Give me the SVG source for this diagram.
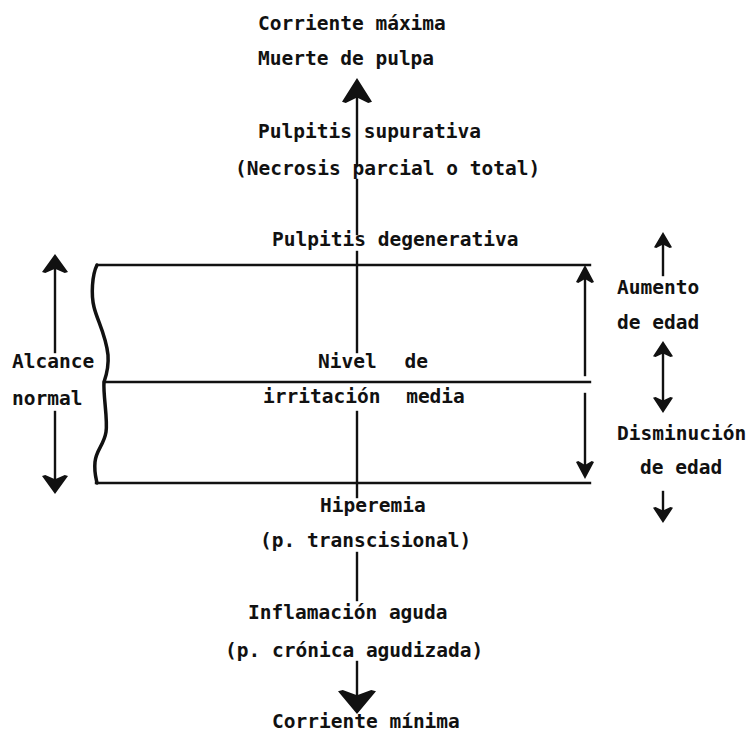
<svg xmlns="http://www.w3.org/2000/svg" xmlns:xlink="http://www.w3.org/1999/xlink" width="748" height="732" viewBox="0 0 748 732">
<style>
text{font-family:"DejaVu Sans Mono","Liberation Mono",monospace;font-size:19.5px;font-weight:bold;fill:#111}
.ln{stroke:#111;stroke-width:2.4;fill:none;stroke-linecap:square}
.wave{stroke:#111;stroke-width:3.5;fill:none;stroke-linecap:round}
.ah{fill:#111}
</style>
<defs>
<path id="ah" d="M0,0 L1,0.95 L0.75,1 L0,0.78 L-0.75,1 L-1,0.95 Z"/>
</defs>
<rect width="748" height="732" fill="#fff"/>
<g id="connectors">
<line class="ln" x1="357" y1="96" x2="357" y2="165"/>
<line class="ln" x1="357" y1="180" x2="357" y2="234"/>
<line class="ln" x1="357" y1="252" x2="357" y2="352"/>
<line class="ln" x1="357" y1="412" x2="357" y2="497"/>
<line class="ln" x1="357" y1="553" x2="357" y2="600"/>
<line class="ln" x1="357" y1="662" x2="357" y2="700"/>
<use xlink:href="#ah" class="ah" transform="translate(357,78) scale(15,25)"/>
<use xlink:href="#ah" class="ah" transform="translate(357,714) scale(19,-24)"/>
<line class="ln" x1="55" y1="262" x2="55" y2="352"/>
<line class="ln" x1="55" y1="412" x2="55" y2="486"/>
<use xlink:href="#ah" class="ah" transform="translate(55,254) scale(13,19)"/>
<use xlink:href="#ah" class="ah" transform="translate(55,494) scale(13,-19)"/>
<line class="ln" x1="585" y1="272" x2="585" y2="375"/>
<line class="ln" x1="585" y1="394" x2="585" y2="470"/>
<use xlink:href="#ah" class="ah" transform="translate(585,265) scale(9,18)"/>
<use xlink:href="#ah" class="ah" transform="translate(585,479) scale(9,-18)"/>
<line class="ln" x1="663" y1="240" x2="663" y2="275"/>
<use xlink:href="#ah" class="ah" transform="translate(663,232) scale(9,16)"/>
<line class="ln" x1="663" y1="350" x2="663" y2="405"/>
<use xlink:href="#ah" class="ah" transform="translate(663,341) scale(10,16)"/>
<use xlink:href="#ah" class="ah" transform="translate(663,413) scale(10,-16)"/>
<line class="ln" x1="663" y1="492" x2="663" y2="515"/>
<use xlink:href="#ah" class="ah" transform="translate(663,523) scale(10,-16)"/>
</g>
<g id="box">
<line class="ln" x1="97" y1="265" x2="590" y2="265"/>
<line class="ln" x1="104" y1="382" x2="590" y2="382"/>
<line class="ln" x1="96" y1="483" x2="590" y2="483"/>
<path class="wave" d="M97,265 C92,275 91,295 94,307 C97,320 106,335 108,355 C109,368 106,376 104,382 C103,395 108,420 106,432 C104,445 96,450 95,462 C94,472 96,478 97,483"/>
</g>
<g id="n-corriente-max"><text x="258" y="30">Corriente máxima</text></g>
<g id="n-muerte"><text x="258" y="65">Muerte de pulpa</text></g>
<g id="n-supurativa"><text x="258" y="138">Pulpitis supurativa</text></g>
<g id="n-necrosis"><text x="235" y="175">(Necrosis parcial o total)</text></g>
<g id="n-degenerativa"><text x="272" y="246">Pulpitis degenerativa</text></g>
<g id="n-nivel"><text x="318" y="368" word-spacing="16">Nivel de</text></g>
<g id="n-irritacion"><text x="263" y="403" word-spacing="14">irritación media</text></g>
<g id="n-hiperemia"><text x="320" y="512">Hiperemia</text></g>
<g id="n-transcisional"><text x="260" y="547">(p. transcisional)</text></g>
<g id="n-inflamacion"><text x="248" y="619">Inflamación aguda</text></g>
<g id="n-cronica"><text x="225" y="657">(p. crónica agudizada)</text></g>
<g id="n-corriente-min"><text x="272" y="728">Corriente mínima</text></g>
<g id="n-alcance"><text x="12" y="368">Alcance</text><text x="12" y="405">normal</text></g>
<g id="n-aumento"><text x="617" y="294">Aumento</text><text x="617" y="329">de edad</text></g>
<g id="n-disminucion"><text x="617" y="440">Disminución</text><text x="640" y="474">de edad</text></g>
</svg>
